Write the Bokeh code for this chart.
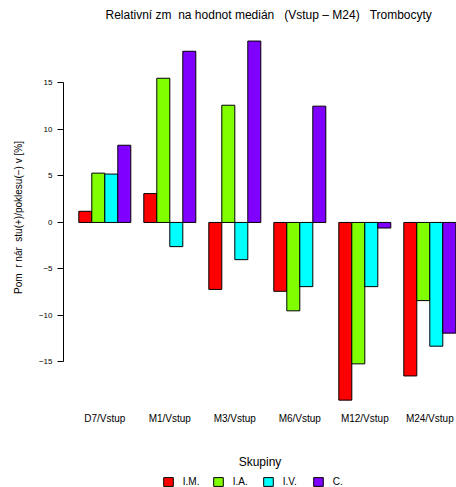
from bokeh.plotting import figure
from bokeh.layouts import column
from bokeh.models import ColumnDataSource, FixedTicker, Legend, LegendItem, Range1d
from bokeh.embed import file_html
from bokeh.resources import INLINE

# ---- data ----
categories = ["D7/Vstup", "M1/Vstup", "M3/Vstup", "M6/Vstup", "M12/Vstup", "M24/Vstup"]
groups = ["I.M.", "I.A.", "I.V.", "C."]
im_vals = [1.2, 3.1, -7.2, -7.4, -19.1, -16.5]
ia_vals = [5.3, 15.5, 12.6, -9.5, -15.2, -8.4]
iv_vals = [5.2, -2.6, -4.0, -6.9, -6.9, -13.3]
c_vals = [8.3, 18.4, 19.5, 12.5, -0.6, -11.9]
y_ticks = [-15, -10, -5, 0, 5, 10, 15]
colors = ["#FF0000", "#80FF00", "#00FFFF", "#8000FF"]

NB = "\u00a0"
title_text = "Relativní zm" + NB + " na hodnot medián" + NB + " " + NB + "(Vstup – M24)" + NB + " " + NB + "Trombocyty"
y_label = "Pom" + NB + " r nár" + NB + " stu(+)/poklesu(−) v [%]"
legend_title = "Skupiny"

FONT = "Liberation Sans"
series = [im_vals, ia_vals, iv_vals, c_vals]
n_groups = len(series)
group_step = n_groups + 1  # one empty slot between groups (R barplot beside=TRUE)

# pixel -> axis-unit helpers (layout only)
def xd(px):
    return (px - 65.3) / 13.0

def yd(py):
    return (224.0 - py) / 9.4

FRAME_L, FRAME_R, FRAME_T, FRAME_B = 63, 456, 26, 412
W, H_MAIN, H_LEG = 456, 471, 16

p = figure(width=W, height=H_MAIN, output_backend="svg", toolbar_location=None,
           x_range=Range1d(xd(FRAME_L), xd(FRAME_R)), y_range=Range1d(yd(FRAME_B), yd(FRAME_T)),
           min_border_left=FRAME_L, min_border_right=W - FRAME_R,
           min_border_top=FRAME_T, min_border_bottom=H_MAIN - FRAME_B)
p.outline_line_color = None
p.xgrid.visible = False
p.ygrid.visible = False
p.background_fill_color = "white"
p.border_fill_color = "white"

for j, (vals, col) in enumerate(zip(series, colors)):
    xs = [1 + group_step * g + j + 0.5 for g in range(len(categories))]
    src = ColumnDataSource(dict(x=xs, top=vals))
    p.vbar(x="x", top="top", bottom=0, width=1, source=src,
           fill_color=col, line_color="black", line_width=1)

# title
p.title.text = title_text
p.title.align = "left"
p.title.offset = 42
p.title.standoff = 10
p.title.vertical_align = "bottom"
p.title.text_font = FONT
p.title.text_font_size = "12px"
p.title.text_font_style = "normal"
p.title.text_color = "black"

# x axis: category labels under group centers, legend title as axis label
centers = [1 + group_step * g + n_groups / 2 for g in range(len(categories))]
p.xaxis.ticker = FixedTicker(ticks=centers)
p.xaxis.major_label_overrides = {c: lab for c, lab in zip(centers, categories)}
p.xaxis.axis_line_color = None
p.xaxis.major_tick_line_color = None
p.xaxis.minor_tick_line_color = None
p.xaxis.major_tick_out = 0
p.xaxis.major_tick_in = 0
p.xaxis.major_label_standoff = 4
p.xaxis.major_label_text_font = FONT
p.xaxis.major_label_text_font_size = "10px"
p.xaxis.major_label_text_color = "black"
p.xaxis.axis_label = legend_title
p.xaxis.axis_label_text_font = FONT
p.xaxis.axis_label_text_font_size = "12px"
p.xaxis.axis_label_text_font_style = "normal"
p.xaxis.axis_label_text_color = "black"
p.xaxis.axis_label_standoff = 28

# y axis
p.yaxis.ticker = FixedTicker(ticks=y_ticks)
p.yaxis.bounds = (min(y_ticks), max(y_ticks))
p.yaxis.minor_tick_line_color = None
p.yaxis.major_tick_out = 6
p.yaxis.major_tick_in = 0
p.yaxis.major_label_standoff = 5
p.yaxis.major_label_text_font = FONT
p.yaxis.major_label_text_font_size = "8px"
p.yaxis.major_label_text_color = "black"
p.yaxis.axis_line_color = "black"
p.yaxis.major_tick_line_color = "black"
p.yaxis.axis_label = y_label
p.yaxis.axis_label_text_font = FONT
p.yaxis.axis_label_text_font_size = "10px"
p.yaxis.axis_label_text_font_style = "normal"
p.yaxis.axis_label_text_color = "black"
p.yaxis.axis_label_standoff = 12

# ---- legend strip (separate small figure under the chart, frame aligned with the chart) ----
q = figure(width=W, height=H_LEG, output_backend="svg", toolbar_location=None,
           x_range=Range1d(1, 2), y_range=Range1d(1, 2),
           x_axis_location=None, y_axis_location=None,
           min_border=0, min_border_left=0, min_border_right=0,
           min_border_top=0, min_border_bottom=0)
q.outline_line_color = None
q.xgrid.visible = False
q.ygrid.visible = False
q.title.visible = False
leg_renderers = []
for col in colors:
    # zero-size placeholder outside the visible range: only its style is used by the legend
    dummy = ColumnDataSource(dict(x=[0.0], top=[0.0]))
    leg_renderers.append(q.vbar(x="x", top="top", bottom=0, width=0, source=dummy,
                                fill_color=col, line_color="black", line_width=1))

legend = Legend(items=[LegendItem(label=g, renderers=[r]) for g, r in zip(groups, leg_renderers)],
                orientation="horizontal", location=(161.8 - FRAME_L, 0), padding=0, margin=0,
                spacing=0, glyph_width=12, glyph_height=11, label_standoff=9, label_width=29,
                label_height=10, label_text_font=FONT, label_text_font_size="10px",
                label_text_color="black", border_line_color=None, background_fill_alpha=0)
q.add_layout(legend)

layout = column(p, q, spacing=0)
open("out.html", "w").write(file_html(layout, INLINE))
